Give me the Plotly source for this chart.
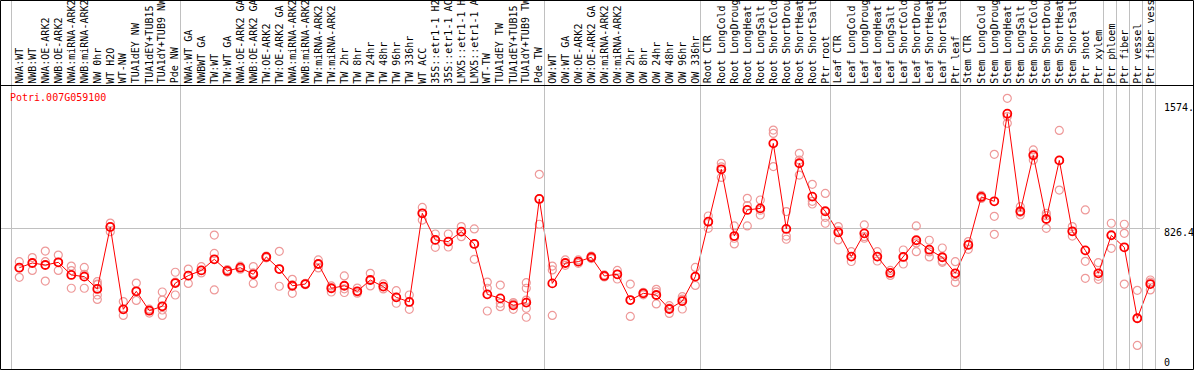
import plotly.graph_objects as go

gene_id = "Potri.007G059100"

labels = [
    "NWA:WT", "NWB:WT", "NWA:OE-ARK2", "NWB:OE-ARK2", "NWA:miRNA-ARK2", "NWB:miRNA-ARK2",
    "NW 0hr", "WT H2O", "WT-NW", "TUA1dEY NW", "TUA1dEY+TUB15", "TUA1dY+TUB9 NW", "Pde NW",
    "NWA:WT GA", "NWBWT GA", "TW:WT", "TW:WT GA", "NWA:OE-ARK2 GA", "NWB:OE-ARK2 GA",
    "TW:OE-ARK2", "TW:OE-ARK2 GA", "NWA:miRNA-ARK2", "NWB:miRNA-ARK2", "TW:miRNA-ARK2",
    "TW:miRNA-ARK2", "TW 2hr", "TW 8hr", "TW 24hr", "TW 48hr", "TW 96hr", "TW 336hr",
    "WT ACC", "35S::etr1-1 H2", "35S::etr1-1 AC", "LMX5::etr1-1 H", "LMX5::etr1-1 A",
    "WT-TW", "TUA1dEY TW", "TUA1dEY+TUB15", "TUA1dY+TUB9 TW", "Pde TW",
    "OW:WT", "OW:WT GA", "OW:OE-ARK2", "OW:OE-ARK2 GA", "OW:miRNA-ARK2", "OW:miRNA-ARK2",
    "OW 2hr", "OW 8hr", "OW 24hr", "OW 48hr", "OW 96hr", "OW 336hr",
    "Root CTR", "Root LongCold", "Root LongDroug", "Root LongHeat", "Root LongSalt",
    "Root ShortCold", "Root ShortDrou", "Root ShortHeat", "Root ShortSalt", "Ptr root",
    "Leaf CTR", "Leaf LongCold", "Leaf LongDroug", "Leaf LongHeat", "Leaf LongSalt",
    "Leaf ShortCold", "Leaf ShortDrou", "Leaf ShortHeat", "Leaf ShortSalt", "Ptr leaf",
    "Stem CTR", "Stem LongCold", "Stem LongDroug", "Stem LongHeat", "Stem LongSalt",
    "Stem ShortCold", "Stem ShortDrou", "Stem ShortHeat", "Stem ShortSalt", "Ptr shoot",
    "Ptr xylem", "Ptr phloem", "Ptr fiber", "Ptr vessel", "Ptr fiber vess",
]

group_sizes = [13, 28, 12, 10, 10, 11, 1, 1, 1, 1]

means = [
    591, 619, 607, 623, 548, 538, 465, 833, 344, 451, 336, 362, 500,
    544, 575, 641, 572, 591, 552, 655, 583, 484, 494, 613, 469, 484, 451, 518,
    479, 415, 388, 914, 756, 746, 805, 732, 433, 409, 368, 384, 999,
    498, 619, 627, 653, 542, 552, 399, 439, 429, 346, 393, 538,
    864, 1175, 779, 934, 943, 1329, 821, 1211, 1013, 926,
    801, 657, 795, 657, 560, 655, 754, 698, 653, 558,
    726, 1011, 985, 1505, 926, 1258, 880, 1228, 807, 694, 558,
    783, 712, 291, 494,
]

replicates = [
    [627, 591, 534], [651, 620, 575], [690, 627, 512], [666, 623, 575],
    [601, 574, 469], [593, 552, 469], [508, 494, 429, 403, 490], [856, 833, 805],
    [390, 344, 308], [500, 451, 397], [336, 322, 345], [447, 399, 340, 308, 362],
    [564, 505, 429],
    [583, 544, 498], [597, 575, 560], [785, 676, 459], [580, 572, 565],
    [600, 591, 582], [598, 560, 498], [660, 655, 650], [688, 583, 481],
    [522, 490, 439], [498, 494, 490], [637, 613, 590], [483, 469, 447],
    [542, 466, 444], [470, 451, 440], [558, 518, 483], [495, 479, 465],
    [455, 415, 380], [429, 388, 344], [949, 914, 874], [791, 756, 712],
    [791, 746, 714], [835, 805, 775], [821, 732, 641], [506, 469, 334],
    [488, 380, 360], [384, 376, 344], [502, 469, 399, 350, 297], [1145, 999, 849],
    [601, 578, 308], [637, 619, 605], [637, 627, 617], [660, 653, 645],
    [548, 542, 536], [575, 552, 524], [494, 399, 302], [445, 439, 430],
    [463, 448, 376], [366, 352, 320], [419, 405, 346], [593, 538, 486],
    [898, 864, 825], [1211, 1190, 1127], [839, 766, 732], [1003, 960, 839],
    [993, 932, 904], [1408, 1388, 1191], [924, 779, 760], [1270, 1230, 1141],
    [1086, 985, 969], [1032, 890, 855],
    [835, 812, 756], [686, 657, 628], [845, 775, 766], [686, 657, 631],
    [575, 560, 545], [696, 655, 613], [839, 738, 686], [754, 685, 655],
    [708, 630, 623], [627, 538, 504],
    [746, 730, 700], [1020, 1011, 1002], [1264, 896, 789], [1596, 1488, 1448],
    [953, 920, 904], [1290, 1265, 1230], [914, 900, 825], [1406, 1228, 1052],
    [835, 807, 779], [934, 629, 528], [621, 540, 522],
    [855, 787, 706], [849, 795, 494], [457, 291, 130], [518, 505, 459],
]

ytick_vals = [0, 826.4, 1574]
ytick_text = ["0", "826.4", "1574."]

# ---------------- layout geometry ----------------
W, H = 1194, 370
ML, MR, MT, MB = 1, 34, 86, 1
plot_w = W - ML - MR
plot_h = H - MT - MB
x0_px, dx_px = 19.3, 13.0          # pixel of first column, column step
xmin = 1 - (x0_px - ML) / dx_px
xmax = xmin + plot_w / dx_px
y0_px, ypx_per = 367.3, 0.1685     # pixel of value 0, px per unit
ymin = (y0_px - (H - MB)) / ypx_per
ymax = (y0_px - MT) / ypx_per


def px_x(X):
    return (X - ML) / plot_w


def px_y(Y):
    return (H - MB - Y) / plot_h


n = len(labels)
xs = list(range(1, n + 1))

rx, ry = [], []
for i, reps in zip(xs, replicates):
    rx.extend([i] * len(reps))
    ry.extend(reps)

mono = "DejaVu Sans Mono"
fig = go.Figure()
fig.add_trace(go.Scatter(
    x=rx, y=ry, mode="markers",
    marker=dict(symbol="circle-open", size=8, color="#ee9999", line=dict(width=1.2)),
    hoverinfo="skip", showlegend=False,
))
fig.add_trace(go.Scatter(
    x=xs, y=means, mode="lines+markers",
    line=dict(color="#ff0000", width=1),
    marker=dict(symbol="circle-open", size=8, color="#ff0000", line=dict(width=1.8)),
    showlegend=False,
))

shapes = []
# group separators (gray vertical lines through header and plot)
edges = [0]
for g in group_sizes:
    edges.append(edges[-1] + g)
for e in edges:
    shapes.append(dict(type="line", xref="x", yref="paper", x0=e + 0.4, x1=e + 0.4,
                       y0=px_y(369.5), y1=px_y(0), line=dict(color="#c0c0c0", width=1)))
# outer black frame and header separator
shapes.append(dict(type="rect", xref="paper", yref="paper",
                   x0=px_x(0.5), x1=px_x(1193.5), y0=px_y(369.5), y1=px_y(0.5),
                   line=dict(color="black", width=1), fillcolor="rgba(0,0,0,0)"))
shapes.append(dict(type="line", xref="paper", yref="paper",
                   x0=px_x(0.5), x1=px_x(1193.5), y0=px_y(85.5), y1=px_y(85.5),
                   line=dict(color="black", width=1)))

annotations = []
for i, lab in zip(xs, labels):
    annotations.append(dict(
        x=i, xref="x", y=px_y(84.5), yref="paper", text=lab, textangle=-90,
        showarrow=False, xanchor="center", yanchor="bottom",
        font=dict(family=mono, size=10, color="black"), borderpad=0,
    ))
annotations.append(dict(
    x=px_x(9), xref="paper", y=px_y(97), yref="paper", text=gene_id,
    showarrow=False, xanchor="left", yanchor="middle",
    font=dict(family=mono, size=10, color="#ff0000"), borderpad=0,
))
shifts = [5, -4, -5]
for v, t, s in zip(ytick_vals, ytick_text, shifts):
    annotations.append(dict(
        x=px_x(1162.5), xref="paper", y=v, yref="y", yshift=s, text=t,
        showarrow=False, xanchor="left", yanchor="middle",
        font=dict(family=mono, size=10, color="black"), borderpad=0,
    ))

fig.update_layout(
    width=W, height=H,
    margin=dict(l=ML, r=MR, t=MT, b=MB, pad=0),
    paper_bgcolor="white", plot_bgcolor="white",
    xaxis=dict(range=[xmin, xmax], showgrid=False, zeroline=False,
               showticklabels=False, ticks="", showline=False),
    yaxis=dict(range=[ymin, ymax], tickvals=[826.4], showgrid=True,
               gridcolor="#c0c0c0", gridwidth=1, zeroline=False,
               showticklabels=False, ticks="", showline=False),
    shapes=shapes, annotations=annotations,
)

page_js = ("document.body.style.margin='0';document.body.style.padding='0';"
           "document.documentElement.style.overflow='hidden';"
           "document.body.style.overflow='hidden';")
fig.write_html("out.html", post_script=page_js, config={"displayModeBar": False})
